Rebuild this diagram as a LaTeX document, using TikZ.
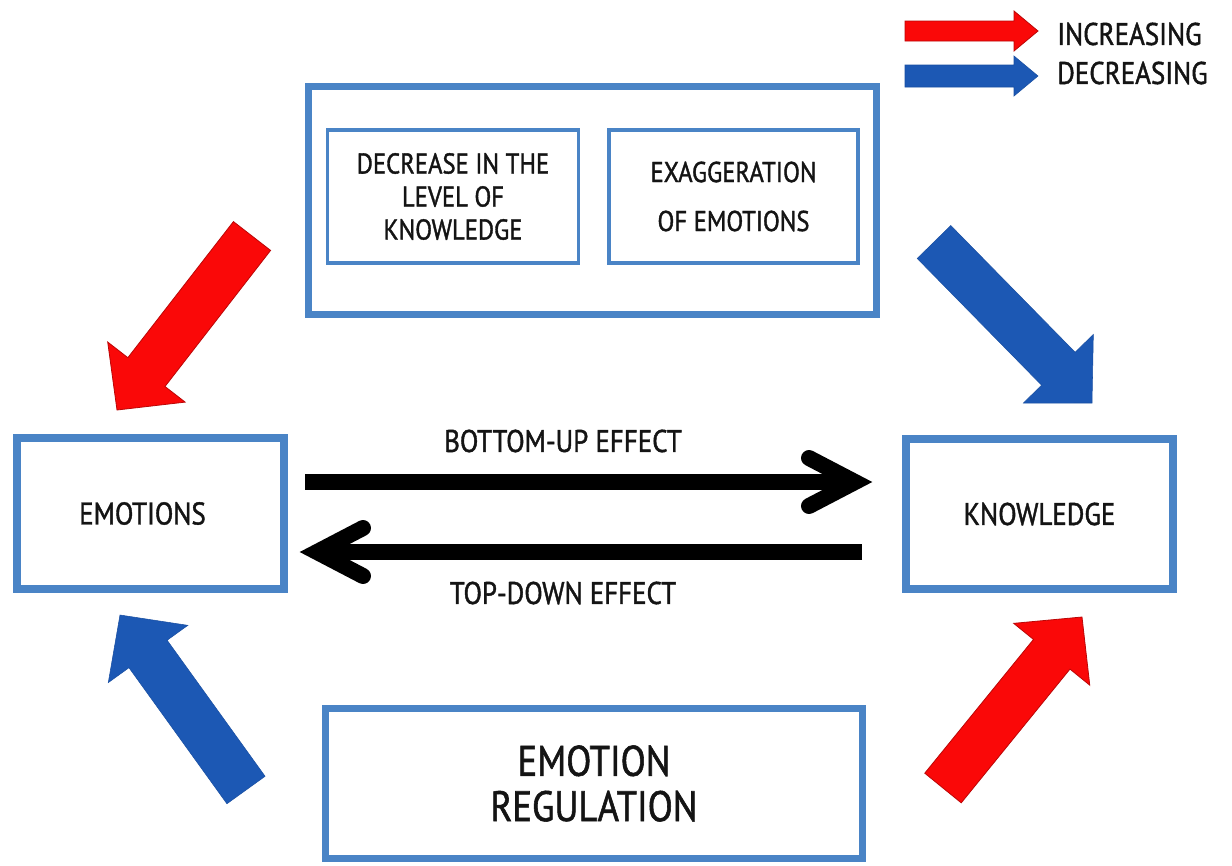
\documentclass[tikz,border=0pt]{standalone}
\usepackage{fontspec}
\setmainfont[FakeStretch=0.86,FakeBold=1.3]{PT Sans}
\usetikzlibrary{calc}
\definecolor{boxblue}{RGB}{74,132,198}
\definecolor{arrred}{RGB}{250,8,8}
\definecolor{arrblue}{RGB}{28,88,180}
\definecolor{ink}{RGB}{20,20,20}
% #1 style, #2 tail, #3 tip, #4 shaft half-width (px), #5 head half-width (px), #6 head length (px)
\newcommand\blockarrow[6]{%
  \path[#1] let \p1=(#2), \p2=(#3),
     \n1={atan2(\y2-\y1,\x2-\x1)},
     \n2={veclen(\x2-\x1,\y2-\y1)},
     \n3={veclen(\x2-\x1,\y2-\y1)-#6*0.75}
   in [shift={(\p1)}, rotate=\n1]
   (0pt,{-#4*0.75pt}) -- ({\n3*1pt},{-#4*0.75pt}) -- ({\n3*1pt},{-#5*0.75pt})
   -- ({\n2*1pt},0pt) -- ({\n3*1pt},{#5*0.75pt}) -- ({\n3*1pt},{#4*0.75pt})
   -- (0pt,{#4*0.75pt}) -- cycle;}
\begin{document}
\begin{tikzpicture}[x=0.75pt,y=-0.75pt,
  bigbox/.style={draw=boxblue, line width=5.5pt, fill=white, inner sep=0pt, align=center, text=ink},
  smallbox/.style={draw=boxblue, line width=2.6pt, fill=white, inner sep=0pt, align=center, text=ink},
  lbl/.style={inner sep=0pt, text=ink, font=\fontsize{23.5}{28}\selectfont},
  redarrow/.style={fill=arrred, draw=arrred!75!black, line width=0.6pt},
  bluearrow/.style={fill=arrblue, draw=arrblue!90!black, line width=0.4pt},
  effect/.style={line width=12pt, black},
  chevron/.style={line width=12pt, black, line cap=round, line join=miter}]
\fill[white] (0,0) rectangle (1232,865);
\useasboundingbox (0,0) rectangle (1232,865);

% top box
\node[bigbox, line width=5.25pt, minimum width=426pt, minimum height=171pt] (top) at (592.5,200.5) {};
\node[smallbox, minimum width=188pt, minimum height=100pt,
      font=\fontsize{21.5}{24.75}\selectfont] (dec) at (453,196.5)
      {DECREASE IN THE\\LEVEL OF\\KNOWLEDGE};
\node[smallbox, minimum width=187pt, minimum height=100pt,
      font=\fontsize{21.5}{36.75}\selectfont] (exa) at (733.5,196.5)
      {EXAGGERATION\\OF EMOTIONS};

% side boxes
\node[bigbox, line width=6pt, minimum width=200.25pt, minimum height=113.25pt,
      font=\fontsize{23.5}{28}\selectfont] (emo) at (150.5,513.5) {EMOTIONS\hspace*{12pt}};
\node[bigbox, line width=6pt, minimum width=200.25pt, minimum height=112.5pt,
      font=\fontsize{23.5}{28}\selectfont] (kno) at (1039.5,514) {KNOWLEDGE};

% bottom box
\node[bigbox, line width=5.25pt, minimum width=403pt, minimum height=112.5pt,
      font=\fontsize{32}{34}\selectfont] (reg) at (594,783.5) {EMOTION\\REGULATION};

% effect arrows
\coordinate (bu-s) at (305,482);
\coordinate (bu-e) at (855,482);
\coordinate (td-s) at (862,552);
\coordinate (td-e) at (317,552);
\draw[effect] (bu-s) -- (bu-e);
\draw[chevron] ($(bu-e)+(-46,-24)$) -- (bu-e) -- ($(bu-e)+(-46,24)$);
\draw[effect] (td-s) -- (td-e);
\draw[chevron] ($(td-e)+(46,-24)$) -- (td-e) -- ($(td-e)+(46,24)$);
\node[lbl] (bul) at (563,441) {BOTTOM-UP EFFECT};
\node[lbl] (tdl) at (563,593) {TOP-DOWN EFFECT};

% block arrows
\coordinate (a1t) at (252,236);  \coordinate (a1h) at (117,410);
\coordinate (a2t) at (934,242);  \coordinate (a2h) at (1092,403);
\coordinate (a3t) at (246,790);  \coordinate (a3h) at (120,615);
\coordinate (a4t) at (943,788);  \coordinate (a4h) at (1082,617);
\blockarrow{redarrow}{a1t}{a1h}{23.5}{49}{48}
\blockarrow{bluearrow}{a2t}{a2h}{23.5}{49}{48}
\blockarrow{bluearrow}{a3t}{a3h}{23.5}{49}{48}
\blockarrow{redarrow}{a4t}{a4h}{23.5}{49}{48}

% legend
\coordinate (l1t) at (905,31);  \coordinate (l1h) at (1038,31);
\coordinate (l2t) at (905,76);  \coordinate (l2h) at (1038,76);
\blockarrow{redarrow}{l1t}{l1h}{10}{20}{24}
\blockarrow{bluearrow}{l2t}{l2h}{11}{20}{24}
\node[lbl, anchor=west] (inc) at (1057,34) {INCREASING};
\node[lbl, anchor=west] (decr) at (1057,73) {DECREASING};
\end{tikzpicture}
\end{document}
